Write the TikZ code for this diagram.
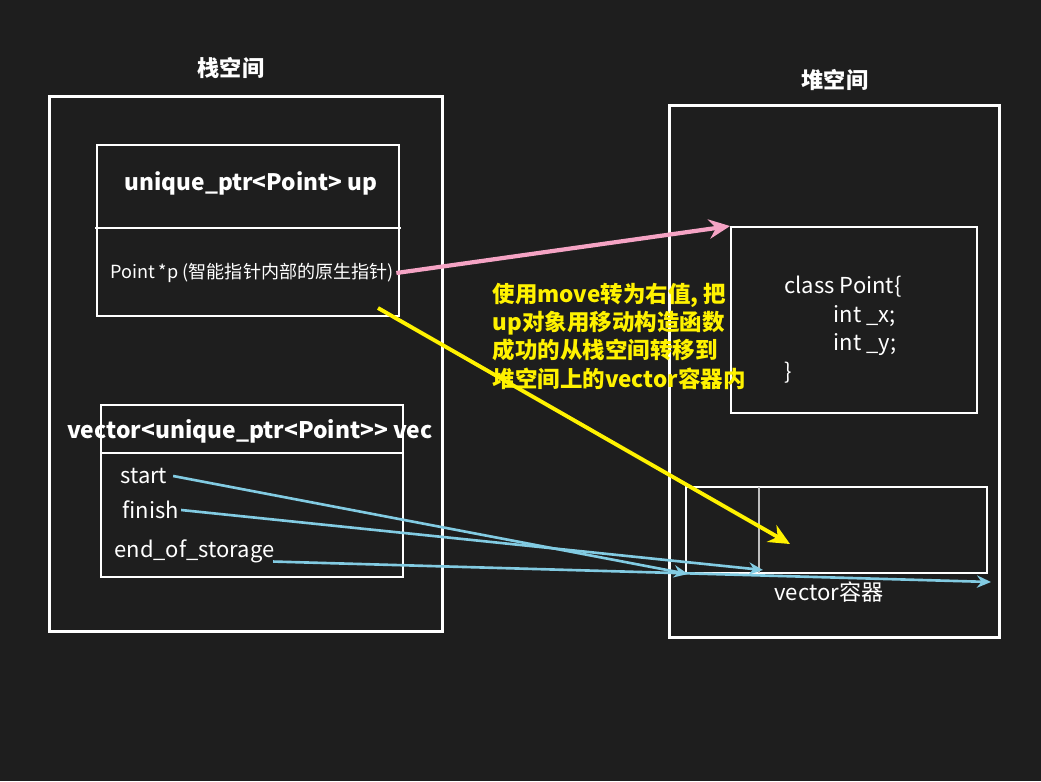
\documentclass[tikz,border=0pt]{standalone}
\usepackage{fontspec}
\setmainfont{Noto Sans CJK SC}
\usetikzlibrary{positioning,arrows.meta}

\definecolor{bg}{HTML}{1E1E1E}
\definecolor{pinkline}{HTML}{F5A3C4}
\definecolor{blueline}{HTML}{82CBE2}
\definecolor{notecol}{HTML}{FFF200}

\tikzset{
  outer/.style = {draw=white, line width=1.7pt, inner sep=0pt},
  inner/.style = {draw=white, line width=1.1pt, inner sep=0pt},
  label/.style = {text=white, inner sep=1pt},
  title/.style = {label, font=\fontsize{12.6}{14}\selectfont\bfseries},
  field/.style = {label, font=\fontsize{12.5}{14}\selectfont, anchor=west},
}

\begin{document}
\begin{tikzpicture}[x=0.02cm, y=-0.02cm, thick]
\fill[bg] (0,0) rectangle (1041,781);

% stack side
\node[title] (stacktitle) at (231,68) {栈空间};
\node[outer, minimum width=7.88cm, minimum height=10.72cm] (stack) at (246,364) {};
\node[inner, minimum width=6.04cm, minimum height=3.42cm] (upbox) at (248,230.5) {};
\draw[white, line width=1.1pt] (95,228) -- (401,228);
\node[title, font=\fontsize{12.9}{14}\selectfont\bfseries] (uptitle) at (251,183) {unique\_ptr<Point> up};
\node[label, font=\fontsize{10.3}{11}\selectfont] (ptr) at (252,273) {Point *p (智能指针内部的原生指针)};

\node[inner, minimum width=6.04cm, minimum height=3.44cm] (vecbox) at (252,491) {};
\draw[white, line width=1.1pt] (101,453) -- (403,453);
\node[title, font=\fontsize{13}{14}\selectfont\bfseries] (vectitle) at (250,431) {vector<unique\_ptr<Point>{}> vec};
\node[field] (start) at (118,476) {start};
\node[field] (finish) at (120,510) {finish};
\node[field] (eos) at (112,551) {end\_of\_storage};

% heap side
\node[title] (heaptitle) at (835,80) {堆空间};
\node[outer, minimum width=6.62cm, minimum height=10.66cm] (heap) at (834.5,371.5) {};
\node[inner, minimum width=4.92cm, minimum height=3.72cm] (cls) at (854,320) {};
\node[label, font=\fontsize{12.5}{16.2}\selectfont, align=left, anchor=north west] (clstext) at (782,274)
  {class Point\{\\\hspace*{2.25em}int \_x;\\\hspace*{2.25em}int \_y;\\\}};
\node[inner, minimum width=6.02cm, minimum height=1.72cm] (vbox) at (836.5,530) {};
\draw[white!75!black, line width=0.9pt] (759,487) -- (759,573);
\node[label, font=\fontsize{12.6}{13}\selectfont] (vlabel) at (829,592) {vector容器};

% note
\node[text=notecol, font=\fontsize{12.8}{16.2}\selectfont\bfseries, align=left, anchor=north west, inner sep=0pt] (note) at (492,282)
  {使用move转为右值, 把\\up对象用移动构造函数\\成功的从栈空间转移到\\堆空间上的vector容器内};

% arrows
\coordinate (ystart) at (378,308);
\coordinate (yend) at (790,544);
\coordinate (eosend) at (991,582);
\coordinate (startend) at (688,574);
\coordinate (finishend) at (763,570);

\draw[pinkline, line width=2.4pt, -{Stealth[length=12pt, width=11pt]}] (ptr.east) -- (cls.north west);
\draw[notecol, line width=2.2pt, -{Stealth[length=12pt, width=11pt]}] (ystart) -- (yend);
\draw[blueline, line width=1.5pt, -{Stealth[length=8pt, width=7pt]}] ([xshift=2pt]start.east) -- (startend);
\draw[blueline, line width=1.5pt, -{Stealth[length=8pt, width=7pt]}] (finish.east) -- (finishend);
\draw[blueline, line width=1.5pt, -{Stealth[length=8pt, width=7pt]}] ([xshift=-2pt, yshift=-6pt]eos.east) -- (eosend);
\end{tikzpicture}
\end{document}
